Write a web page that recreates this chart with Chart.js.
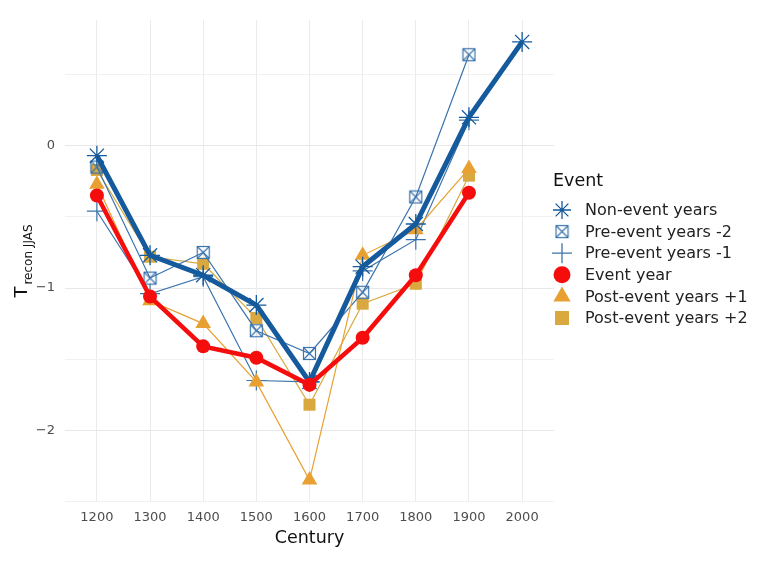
<!DOCTYPE html>
<html>
<head>
<meta charset="utf-8">
<title>Century reconstruction chart</title>
<script src="https://cdn.jsdelivr.net/npm/chart.js@4/dist/chart.umd.min.js"></script>
<style>
  body { margin: 0; background: #fff; }
  #wrap { width: 763px; height: 563px; }
</style>
</head>
<body>
<div id="wrap"><canvas id="chart" width="763" height="563"></canvas></div>
<script>
// Data
const centuries = [1200, 1300, 1400, 1500, 1600, 1700, 1800, 1900, 2000];
const yTickValues = [-2.5, -2, -1.5, -1, -0.5, 0, 0.5];
const yLabelValues = [-2, -1, 0];

const seriesNames = [
    'Non-event years',
    'Pre-event years -2',
    'Pre-event years -1',
    'Event year',
    'Post-event years +1',
    'Post-event years +2'
];

const nonEvent = [-0.07, -0.77, -0.91, -1.12, -1.66, -0.85, -0.55, 0.20, 0.73];
const preEvent2 = [-0.15, -0.93, -0.75, -1.30, -1.46, -1.03, -0.36, 0.64, null];
const preEvent1 = [-0.46, -1.04, -0.92, -1.65, -1.66, -0.88, -0.66, 0.18, null];
const eventYear = [-0.35, -1.06, -1.41, -1.49, -1.68, -1.35, -0.91, -0.33, null];
const postEvent1 = [-0.27, -1.09, -1.25, -1.66, -2.35, -0.77, -0.59, -0.16, null];
const postEvent2 = [-0.17, -0.78, -0.83, -1.21, -1.82, -1.11, -0.97, -0.21, null];

const BLUE_DARK = '#155a9c';
const BLUE = '#3a74ad';
const RED = '#f50d0d';
const ORANGE = '#e8a032';
const GOLD = '#d9a83f';

// square with an X inside (ggplot shape 7)
function boxCross(size, color) {
    const c = document.createElement('canvas');
    c.width = size; c.height = size;
    const ctx = c.getContext('2d');
    ctx.strokeStyle = color;
    ctx.lineWidth = 1.2;
    const a = 1.5, b = size - 1.5;
    ctx.strokeRect(a, a, b - a, b - a);
    ctx.beginPath();
    ctx.moveTo(a, a); ctx.lineTo(b, b);
    ctx.moveTo(b, a); ctx.lineTo(a, b);
    ctx.stroke();
    return c;
}

const boxPlot = boxCross(15, BLUE);
const boxLegend = boxCross(15, BLUE);

function toPoints(values) {
    return centuries.map((c, i) => ({ x: c, y: values[i] })).filter(p => p.y !== null);
}

const datasets = [
    {
        label: seriesNames[0], data: toPoints(nonEvent),
        borderColor: BLUE_DARK, backgroundColor: BLUE_DARK, borderWidth: 5,
        pointStyle: 'star', pointRadius: 10, pointBorderWidth: 1.3, order: 1
    },
    {
        label: seriesNames[1], data: toPoints(preEvent2),
        borderColor: BLUE, backgroundColor: BLUE, borderWidth: 1.2,
        pointStyle: boxPlot, pointRadius: 7, pointBorderWidth: 1.2, order: 3
    },
    {
        label: seriesNames[2], data: toPoints(preEvent1),
        borderColor: BLUE, backgroundColor: BLUE, borderWidth: 1.2,
        pointStyle: 'cross', pointRadius: 10, pointBorderWidth: 1.2, order: 4
    },
    {
        label: seriesNames[3], data: toPoints(eventYear),
        borderColor: RED, backgroundColor: RED, borderWidth: 4.5,
        pointStyle: 'circle', pointRadius: 7, pointBorderWidth: 0, order: 0
    },
    {
        label: seriesNames[4], data: toPoints(postEvent1),
        borderColor: ORANGE, backgroundColor: ORANGE, borderWidth: 1.2,
        pointStyle: 'triangle', pointRadius: 9, pointBorderWidth: 0, order: 2
    },
    {
        label: seriesNames[5], data: toPoints(postEvent2),
        borderColor: GOLD, backgroundColor: GOLD, borderWidth: 1.2,
        pointStyle: 'rect', pointRadius: 8.5, pointBorderWidth: 0, order: 5
    }
];

// legend marker drawing
function drawMarker(ctx, style, x, y, color) {
    ctx.save();
    ctx.fillStyle = color;
    ctx.strokeStyle = color;
    ctx.lineWidth = 1.3;
    ctx.beginPath();
    if (style === 'star') {
        const r = 9, d = r * Math.SQRT1_2;
        ctx.moveTo(x - r, y); ctx.lineTo(x + r, y);
        ctx.moveTo(x, y - r); ctx.lineTo(x, y + r);
        ctx.moveTo(x - d, y - d); ctx.lineTo(x + d, y + d);
        ctx.moveTo(x + d, y - d); ctx.lineTo(x - d, y + d);
        ctx.stroke();
    } else if (style === 'cross') {
        const r = 10;
        ctx.moveTo(x - r, y); ctx.lineTo(x + r, y);
        ctx.moveTo(x, y - r); ctx.lineTo(x, y + r);
        ctx.stroke();
    } else if (style === 'circle') {
        ctx.arc(x, y, 8.5, 0, Math.PI * 2);
        ctx.fill();
    } else if (style === 'triangle') {
        const r = 10;
        ctx.moveTo(x, y - r);
        ctx.lineTo(x + r * 0.866, y + r / 2);
        ctx.lineTo(x - r * 0.866, y + r / 2);
        ctx.closePath();
        ctx.fill();
    } else if (style === 'rect') {
        ctx.rect(x - 7, y - 7, 14, 14);
        ctx.fill();
    } else {
        ctx.drawImage(boxLegend, x - boxLegend.width / 2, y - boxLegend.height / 2);
    }
    ctx.restore();
}

const decorations = {
    id: 'decorations',
    afterDraw(chart) {
        const ctx = chart.ctx;
        const area = chart.chartArea;
        ctx.save();

        // x axis title
        ctx.fillStyle = '#111';
        ctx.font = '17.5px "DejaVu Sans"';
        ctx.textAlign = 'center';
        ctx.textBaseline = 'middle';
        ctx.fillText('Century', (area.left + area.right) / 2, 538);

        // y axis title with subscript
        const big = '18px "DejaVu Sans"';
        const small = '12px "DejaVu Sans"';
        ctx.font = big;
        const wT = ctx.measureText('T').width;
        ctx.font = small;
        const wSub = ctx.measureText('recon JJAS').width;
        const total = wT + 2 + wSub;
        ctx.translate(27, (area.top + area.bottom) / 2);
        ctx.rotate(-Math.PI / 2);
        ctx.textAlign = 'left';
        ctx.textBaseline = 'alphabetic';
        ctx.font = big;
        ctx.fillText('T', -total / 2, 0);
        ctx.font = small;
        ctx.fillText('recon JJAS', -total / 2 + wT + 2, 5);
        ctx.setTransform(1, 0, 0, 1, 0, 0);

        // legend
        ctx.fillStyle = '#111';
        ctx.font = '17.5px "DejaVu Sans"';
        ctx.textAlign = 'left';
        ctx.textBaseline = 'middle';
        ctx.fillText('Event', 553, 181);
        ctx.font = '16px "DejaVu Sans"';
        chart.data.datasets.forEach((ds, i) => {
            const y = 210 + i * 21.6;
            const style = typeof ds.pointStyle === 'string' ? ds.pointStyle : 'box';
            drawMarker(ctx, style, 562, y, ds.borderColor);
            ctx.fillStyle = '#222';
            ctx.fillText(ds.label, 585, y + 1);
        });
        ctx.restore();
    }
};

new Chart(document.getElementById('chart'), {
    type: 'line',
    data: { datasets },
    options: {
        responsive: false,
        devicePixelRatio: 1,
        animation: false,
        events: [],
        layout: { padding: { left: 0, top: 20, right: 209, bottom: 0 } },
        elements: { line: { tension: 0 } },
        plugins: {
            legend: { display: false },
            tooltip: { enabled: false }
        },
        scales: {
            x: {
                type: 'linear',
                min: 1140,
                max: 2060,
                afterBuildTicks: scale => { scale.ticks = centuries.map(v => ({ value: v })); },
                afterFit: scale => { scale.height = 61; },
                border: { display: false },
                grid: { color: '#ebebeb', lineWidth: 1, drawTicks: false },
                ticks: {
                    padding: 8,
                    color: '#4d4d4d',
                    font: { family: 'DejaVu Sans', size: 13 },
                    autoSkip: false,
                    maxRotation: 0,
                    callback: v => String(v)
                }
            },
            y: {
                type: 'linear',
                min: -2.504,
                max: 0.884,
                afterBuildTicks: scale => { scale.ticks = yTickValues.map(v => ({ value: v })); },
                afterFit: scale => { scale.width = 65; },
                border: { display: false },
                grid: {
                    drawTicks: false,
                    color: c => (yLabelValues.includes(c.tick && c.tick.value) ? '#e8e8e8' : '#f1f1f1'),
                    lineWidth: 1
                },
                ticks: {
                    padding: 10,
                    color: '#4d4d4d',
                    font: { family: 'DejaVu Sans', size: 13 },
                    autoSkip: false,
                    callback: v => (yLabelValues.includes(v) ? (v < 0 ? '\u2212' + Math.abs(v) : String(v)) : '')
                }
            }
        }
    },
    plugins: [decorations]
});
</script>
</body>
</html>
